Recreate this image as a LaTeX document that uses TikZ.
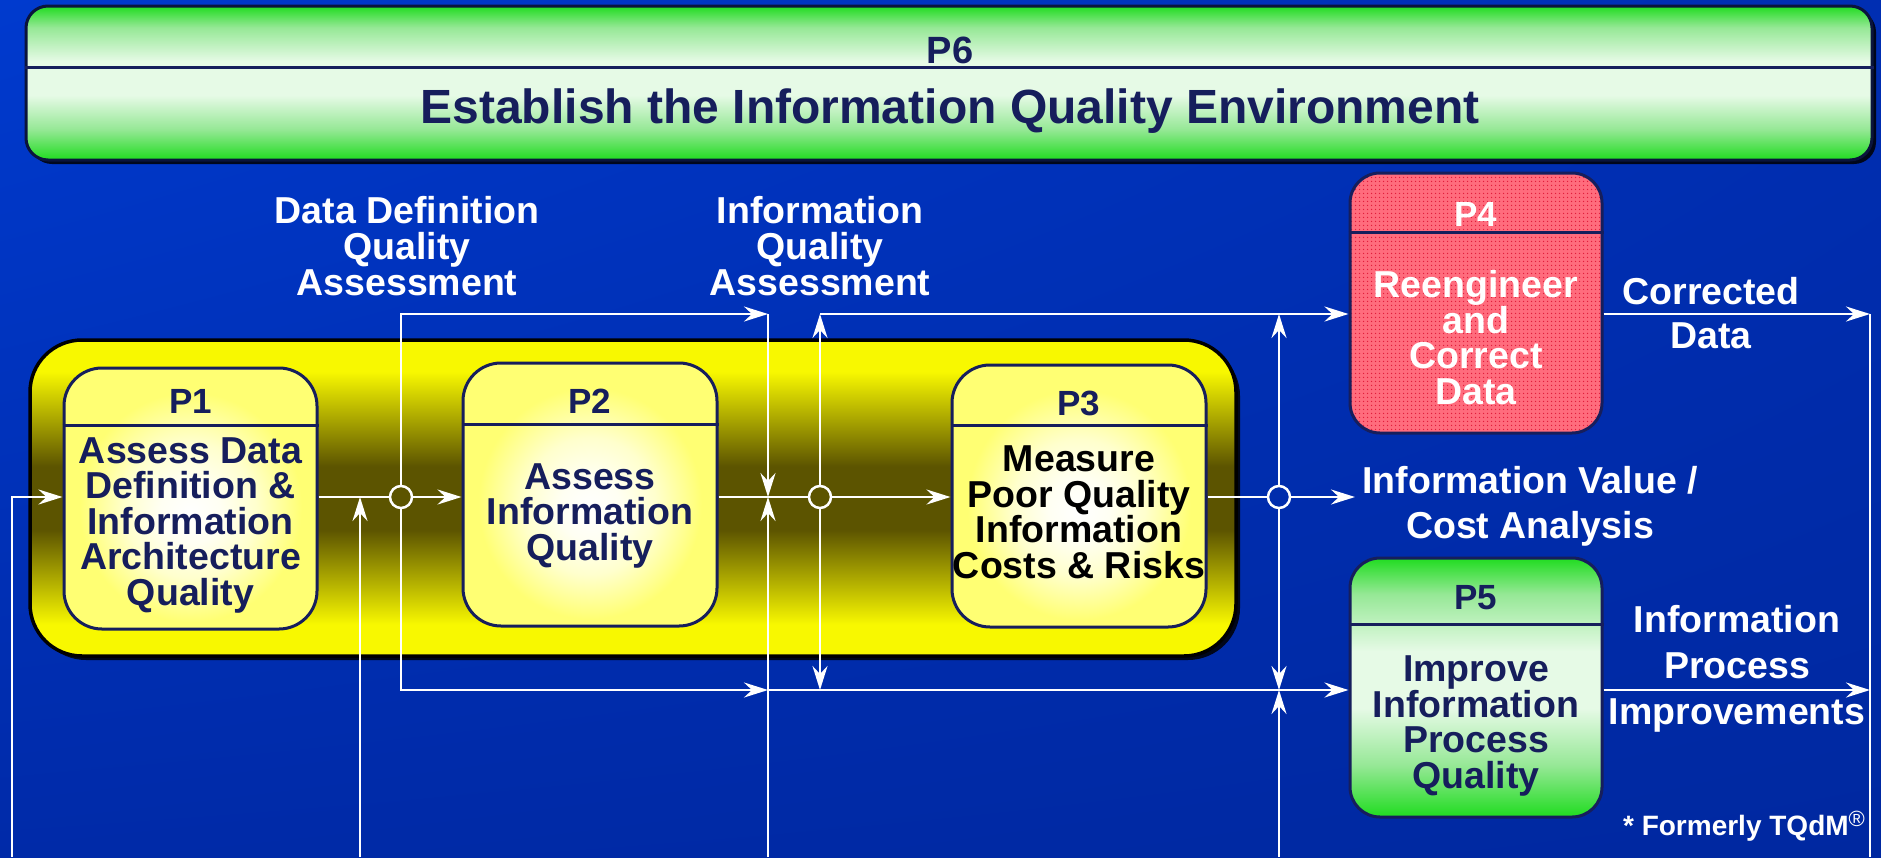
\documentclass[tikz,border=0pt]{standalone}
\usepackage{fontspec}
\setmainfont{Liberation Sans}
\usetikzlibrary{arrows.meta,patterns.meta,shadows,shadings}
\definecolor{navy}{RGB}{22,30,92}
\definecolor{bgA}{RGB}{0,58,206}
\definecolor{bgB}{RGB}{0,46,178}
\definecolor{bgC}{RGB}{0,42,168}
\definecolor{bgD}{RGB}{0,40,160}
\definecolor{ylw}{RGB}{248,248,0}
\definecolor{olv}{RGB}{92,84,0}
\definecolor{byel}{RGB}{255,255,115}
\definecolor{myel}{RGB}{255,255,205}
\definecolor{grn}{RGB}{32,220,32}
\definecolor{lgrn}{RGB}{150,232,150}
\definecolor{pale}{RGB}{230,250,230}
\definecolor{pnk}{RGB}{255,108,125}
\definecolor{dred}{RGB}{225,30,60}
\definecolor{edge}{RGB}{10,20,60}
\pgfdeclareverticalshading{yband}{100bp}{color(0bp)=(ylw); color(25bp)=(ylw); color(30bp)=(ylw); color(45bp)=(olv); color(55bp)=(olv); color(70bp)=(ylw); color(75bp)=(ylw); color(100bp)=(ylw)}
\pgfdeclareverticalshading{gband}{100bp}{color(0bp)=(grn); color(25bp)=(grn); color(35bp)=(lgrn); color(46bp)=(pale); color(57bp)=(pale); color(68bp)=(lgrn); color(75bp)=(grn); color(100bp)=(grn)}
\pgfdeclareradialshading{glow}{\pgfpoint{0bp}{-3bp}}{color(0bp)=(white); color(6bp)=(white!75!myel); color(13bp)=(myel); color(22bp)=(byel); color(50bp)=(byel)}
\tikzset{
 pbox/.style={draw=navy, line width=3pt, inner sep=0pt, rounded corners=38pt},
 div/.style={navy, line width=3pt},
 hd/.style={font=\fontsize{35}{35}\selectfont\bfseries, text=navy, inner sep=0pt, anchor=base},
 bd/.style={font=\fontsize{37.5}{35.5}\selectfont\bfseries, text=navy, align=center, inner sep=0pt, anchor=base},
 lbl/.style={font=\fontsize{37.5}{#1}\selectfont\bfseries, text=white, align=center, inner sep=0pt, anchor=base},
 lbl/.default=36,
 ln/.style={white, line width=2.7pt},
 arr/.style={ln, -{Stealth[length=24pt,width=15pt,inset=8pt]}},
 junc/.style={circle, draw=white, line width=2.5pt, minimum size=22pt, inner sep=0pt},
 shad/.style={drop shadow={shadow xshift=4pt, shadow yshift=-4pt, fill=black, opacity=0.85}},
}
\begin{document}
\begin{tikzpicture}[x=1pt, y=-1pt]
\useasboundingbox (0,0) rectangle (1881,857);
\shade[upper left=bgA, upper right=bgB, lower left=bgC, lower right=bgD] (0,0) rectangle (1881,857);

% P6
\node[draw=edge, line width=3pt, rounded corners=22pt, shade, shading=gband, minimum width=1846pt, minimum height=154pt, inner sep=0pt, shad] (p6) at (949,83) {};
\draw[div] (p6.west |- 0,67) -- (p6.east |- 0,67);
\node[hd, font=\fontsize{38}{38}\selectfont\bfseries] (p6h) at (950,63) {P6};
\node[hd, font=\fontsize{48}{48}\selectfont\bfseries] (p6t) at (950,123) {Establish the Information Quality Environment};

% group box
\node[draw=black, line width=3.5pt, rounded corners=52pt, shade, shading=yband, minimum width=1206pt, minimum height=316pt, inner sep=0pt, shad] (grp) at (633,498) {};

% process boxes
\node[pbox, shade, shading=glow, minimum width=253pt, minimum height=261pt] (p1) at (190.5,498.5) {};
\node[pbox, shade, shading=glow, minimum width=254pt, minimum height=263pt] (p2) at (590,494.5) {};
\node[pbox, shade, shading=glow, minimum width=254pt, minimum height=262pt] (p3) at (1079,496) {};
\node[pbox, rounded corners=30pt, preaction={fill=pnk}, pattern={Dots[radius=0.9pt,distance=4pt]}, pattern color=dred, minimum width=252pt, minimum height=260pt] (p4) at (1476,303) {};
\node[pbox, rounded corners=30pt, shade, shading=gband, minimum width=252pt, minimum height=259pt] (p5) at (1476,687.5) {};

\draw[div] (p1.west |- 0,425) -- (p1.east |- 0,425);
\draw[div] (p2.west |- 0,424) -- (p2.east |- 0,424);
\draw[div] (p3.west |- 0,425) -- (p3.east |- 0,425);
\draw[div] (p4.west |- 0,232) -- (p4.east |- 0,232);
\draw[div] (p5.west |- 0,624) -- (p5.east |- 0,624);

% multi-line nodes: base anchor = baseline of last line
\node[hd] (p1h) at (190.5,413) {P1};
\node[bd] (p1b) at (190.5,605) {Assess Data\\Definition \&\\Information\\Architecture\\Quality};
\node[hd] (p2h) at (590,413) {P2};
\node[bd] (p2b) at (590,560) {Assess\\Information\\Quality};
\node[hd] (p3h) at (1079,415) {P3};
\node[bd, text=black] (p3b) at (1079,578) {Measure\\Poor Quality\\Information\\Costs \& Risks};
\node[hd, text=white] (p4h) at (1476,226) {P4};
\node[bd, text=white] (p4b) at (1476,404) {Reengineer\\and\\Correct\\Data};
\node[hd] (p5h) at (1476,609) {P5};
\node[bd] (p5b) at (1476,788) {Improve\\Information\\Process\\Quality};

% junctions and points
\node[junc] (j1) at (401,497) {};
\node[junc] (j2) at (820,497) {};
\node[junc] (j3) at (1279,497) {};
\coordinate (fb1) at (12,857);
\coordinate (fb2) at (360,857);
\coordinate (fb3) at (768,857);
\coordinate (fb4) at (1279,857);
\coordinate (c1) at (768,314);
\coordinate (c2) at (768,690);
\coordinate (c3) at (820,314);
\coordinate (c4) at (1355,497);
\coordinate (c5) at (1870,314);
\coordinate (c6) at (1870,857);

% connectors
\draw[arr] (fb1) |- (p1.west |- j1);
\draw[ln] (p1.east |- j1) -- (j1);
\draw[arr] (j1) -- (p2.west |- j1);
\draw[arr] (fb2) -- (fb2 |- j1);
\draw[arr] (j1) |- (c1);
\draw[arr] (c1) -- (c1 |- j1);
\draw[arr] (j1) |- (c2);
\draw[arr] (c2) -- (p5.west |- c2);
\draw[arr] (fb3) -- (fb3 |- j1);
\draw[ln] (p2.east |- j2) -- (j2);
\draw[arr] (j2) -- (p3.west |- j2);
\draw[arr] (j2) -- (c3);
\draw[arr] (c3) -- (p4.west |- c3);
\draw[arr] (j2) -- (j2 |- c2);
\draw[ln] (p3.east |- j3) -- (j3);
\draw[arr] (j3) -- (c4);
\draw[arr] (j3) -- (j3 |- c3);
\draw[arr] (j3) -- (j3 |- c2);
\draw[arr] (fb4) -- (fb4 |- c2);
\draw[arr] (p4.east |- c3) -- (c5);
\draw[ln] (c5) -- (c6);
\draw[arr] (p5.east |- c2) -- (c6 |- c2);

% labels
\node[lbl] (ddqa) at (407,295) {Data Definition\\Quality\\Assessment};
\node[lbl] (iqa) at (820,295) {Information\\Quality\\Assessment};
\node[lbl=44] (cd) at (1711,348) {Corrected\\Data};
\node[lbl=45] (ivca) at (1530,538) {Information Value /\\Cost Analysis};
\node[lbl=46] (ipi) at (1737,724) {Information\\Process\\Improvements};
\node[lbl, font=\fontsize{28}{28}\selectfont\bfseries] (tq) at (1744,835) {* Formerly TQdM\raisebox{9pt}{\fontsize{22}{22}\selectfont\mdseries\textregistered}};
\end{tikzpicture}
\end{document}
